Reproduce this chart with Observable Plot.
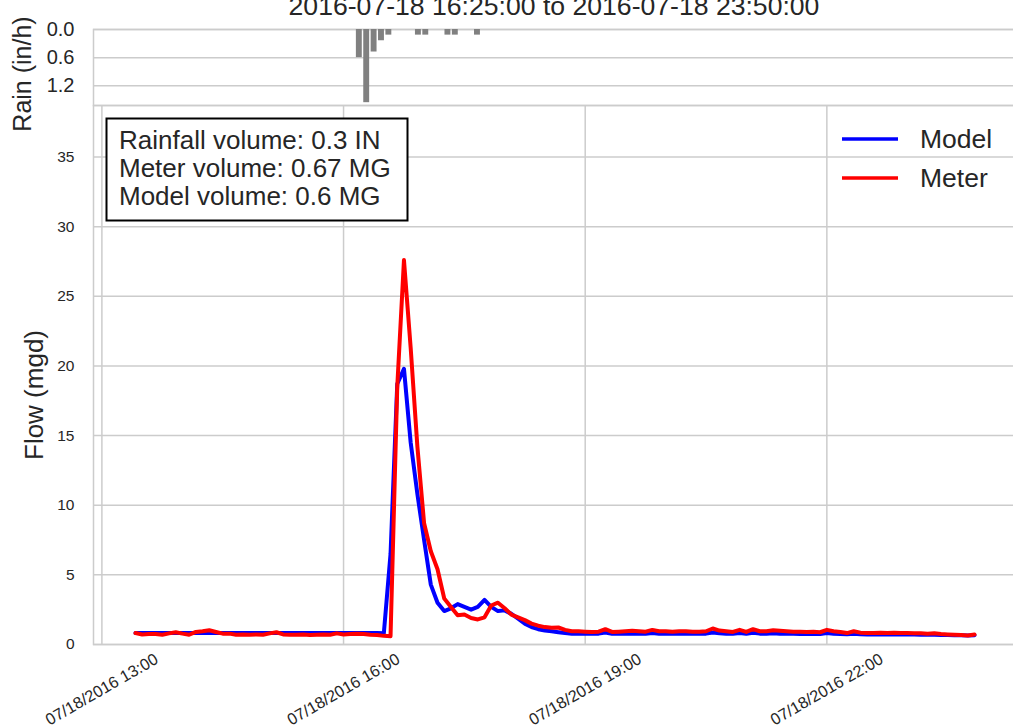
<!DOCTYPE html>
<html>
<head>
<meta charset="utf-8">
<script src="https://cdn.jsdelivr.net/npm/d3@7"></script>
<script src="https://cdn.jsdelivr.net/npm/@observablehq/plot@0.6"></script>
<style>
  html, body { margin: 0; padding: 0; background: white; }
  #wrap { position: relative; width: 1013px; height: 728px; overflow: hidden; font-family: "Liberation Sans", Arial, sans-serif; }
  #wrap > svg, #wrap > figure { position: absolute; left: 0; top: 0; margin: 0; }
</style>
</head>
<body>
<div id="wrap"></div>
<script>
// ---------- data ----------
const startTime = Date.UTC(2016, 6, 18, 13, 25);   // first flow sample
const stepMinutes = 5;

const modelFlow = [
  0.82,0.82,0.82,0.82,0.82,0.82,0.82,0.82,0.82,0.82,
  0.82,0.82,0.82,0.82,0.82,0.82,0.82,0.82,0.82,0.82,
  0.82,0.82,0.82,0.82,0.82,0.82,0.82,0.82,0.82,0.82,
  0.82,0.82,0.82,0.82,0.82,0.82,0.82,0.80,6.5,18.7,
  19.8,14.5,10.8,7.5,4.3,3.0,2.4,2.6,2.9,2.7,
  2.5,2.7,3.2,2.7,2.4,2.45,2.2,1.85,1.5,1.25,
  1.1,1.0,0.95,0.88,0.82,0.78,0.78,0.77,0.77,0.78,
  0.86,0.77,0.77,0.78,0.79,0.78,0.77,0.83,0.78,0.77,
  0.77,0.78,0.78,0.77,0.77,0.78,0.86,0.80,0.78,0.77,
  0.83,0.77,0.84,0.78,0.77,0.80,0.78,0.77,0.77,0.76,
  0.76,0.77,0.75,0.82,0.77,0.75,0.73,0.77,0.73,0.72,
  0.72,0.73,0.72,0.72,0.71,0.71,0.71,0.70,0.70,0.70,
  0.69,0.68,0.67,0.66,0.64,0.67
];

const meterFlow = [
  0.82,0.72,0.75,0.75,0.70,0.80,0.88,0.78,0.70,0.90,
  0.95,1.02,0.90,0.78,0.78,0.70,0.72,0.70,0.72,0.70,
  0.80,0.88,0.72,0.70,0.70,0.72,0.68,0.70,0.72,0.70,
  0.80,0.72,0.75,0.78,0.75,0.70,0.68,0.62,0.60,18.5,
  27.6,21.3,14.2,8.7,6.7,5.4,3.3,2.7,2.1,2.15,
  1.9,1.8,1.95,2.8,3.0,2.6,2.15,1.95,1.75,1.5,
  1.35,1.25,1.2,1.22,1.05,0.95,0.95,0.92,0.90,0.92,
  1.10,0.90,0.92,0.95,0.98,0.95,0.92,1.05,0.95,0.95,
  0.92,0.95,0.95,0.92,0.92,0.95,1.15,1.00,0.95,0.90,
  1.05,0.90,1.10,0.95,0.95,1.02,0.98,0.95,0.92,0.92,
  0.90,0.92,0.88,1.05,0.95,0.90,0.82,0.95,0.85,0.82,
  0.82,0.85,0.82,0.85,0.82,0.82,0.80,0.80,0.78,0.80,
  0.75,0.72,0.70,0.68,0.65,0.72
];

const rainTimes = ["16:25","16:30","16:35","16:40","16:45","17:05","17:10","17:25","17:30","17:45"];
const rainRate  = [0.60, 1.56, 0.48, 0.24, 0.12, 0.12, 0.12, 0.12, 0.12, 0.12];

const flowTicks = [0, 5, 10, 15, 20, 25, 30, 35];
const rainTicks = [0, 0.6, 1.2];
const timeTickLabels = ["13:00", "16:00", "19:00", "22:00"];

const titleText = "2016-07-18 16:25:00 to 2016-07-18 23:50:00";
const boxLines = ["Rainfall volume: 0.3 IN", "Meter volume: 0.67 MG", "Model volume: 0.6 MG"];
const seriesNames = ["Model", "Meter"];
const seriesColors = ["#0000ff", "#ff0000"];

// ---------- helpers ----------
const at = (hm) => { const [h, m] = hm.split(":").map(Number); return new Date(Date.UTC(2016, 6, 18, h, m)); };
const flowRows = [];
modelFlow.forEach((v, i) => flowRows.push({time: new Date(startTime + i * stepMinutes * 60000), value: v, series: "Model"}));
meterFlow.forEach((v, i) => flowRows.push({time: new Date(startTime + i * stepMinutes * 60000), value: v, series: "Meter"}));
const rainRows = rainTimes.map((t, i) => ({time: at(t), value: rainRate[i]}));
const timeTicks = timeTickLabels.map(at);
const fmtTime = d3.utcFormat("%m/%d/%Y %H:%M");

const grid = "#cccccc";
const ink = "#262626";
const font = "'Liberation Sans', Arial, sans-serif";

// ---------- flow panel ----------
const flowPlot = Plot.plot({
  width: 1013, height: 728,
  marginTop: 105, marginBottom: 84, marginLeft: 93, marginRight: -3,
  style: {background: "transparent", fontFamily: font, overflow: "visible"},
  x: {type: "utc", domain: [new Date(Date.UTC(2016,6,18,12,53,45)), new Date(Date.UTC(2016,6,19,0,21,15))], axis: null},
  y: {domain: [0, 38.7], axis: null},
  marks: [
    Plot.gridX(timeTicks, {stroke: grid, strokeOpacity: 1, strokeWidth: 1.5}),
    Plot.gridY(flowTicks, {stroke: grid, strokeOpacity: 1, strokeWidth: 1.5}),
    Plot.frame({stroke: grid, strokeWidth: 1.5}),
    Plot.axisY(flowTicks, {tickSize: 0, tickPadding: 19, fontSize: 15.5, label: null, fill: ink}),
    Plot.text(timeTicks, {x: d => d, text: d => fmtTime(d), frameAnchor: "bottom", dy: 45, rotate: -30, fontSize: 16.3, fill: ink, textAnchor: "middle", lineAnchor: "middle"}),
    Plot.line(flowRows.filter(d => d.series === "Model"), {x: "time", y: "value", stroke: seriesColors[0], strokeWidth: 4}),
    Plot.line(flowRows.filter(d => d.series === "Meter"), {x: "time", y: "value", stroke: seriesColors[1], strokeWidth: 4})
  ]
});

// ---------- rain panel ----------
const halfBar = 2 * 60000;
const rainPlot = Plot.plot({
  width: 1013, height: 106,
  marginTop: 29, marginBottom: 1, marginLeft: 93, marginRight: -3,
  style: {background: "transparent", fontFamily: font, overflow: "visible"},
  x: {type: "utc", domain: [at("13:25"), at("23:50")], axis: null},
  y: {domain: [0, 1.62], reverse: true, axis: null},
  marks: [
    Plot.gridY(rainTicks, {stroke: grid, strokeOpacity: 1, strokeWidth: 1.5}),
    Plot.frame({stroke: grid, strokeWidth: 1.5}),
    Plot.axisY(rainTicks, {tickSize: 0, tickPadding: 19, fontSize: 20, label: null, fill: ink, tickFormat: d => d.toFixed(1)}),
    Plot.rectY(rainRows, {x1: d => new Date(+d.time - halfBar), x2: d => new Date(+d.time + halfBar), y1: 0, y2: "value", fill: "#808080"})
  ]
});

const wrap = document.getElementById("wrap");
wrap.appendChild(flowPlot);
wrap.appendChild(rainPlot);

// ---------- annotations (title, axis titles, text box, legend) ----------
const ns = "http://www.w3.org/2000/svg";
const ann = document.createElementNS(ns, "svg");
ann.setAttribute("width", 1013); ann.setAttribute("height", 728);
ann.style.position = "absolute"; ann.style.left = "0"; ann.style.top = "0"; ann.style.overflow = "visible";
function el(tag, attrs, text) {
  const e = document.createElementNS(ns, tag);
  for (const k in attrs) e.setAttribute(k, attrs[k]);
  if (text != null) e.textContent = text;
  ann.appendChild(e);
  return e;
}
el("text", {x: 554, y: 15, "text-anchor": "middle", "font-size": 26.6, fill: ink, "font-family": font}, titleText);
el("text", {transform: "translate(31,74) rotate(-90)", "text-anchor": "middle", "font-size": 25, fill: ink, "font-family": font}, "Rain (in/h)");
el("text", {transform: "translate(43,395) rotate(-90)", "text-anchor": "middle", "font-size": 26, fill: ink, "font-family": font}, "Flow (mgd)");
el("rect", {x: 106.5, y: 118.5, width: 301, height: 102, fill: "white", stroke: "black", "stroke-width": 2});
boxLines.forEach((t, i) => el("text", {x: 119, y: 149 + i * 27.8, "font-size": 26, fill: ink, "font-family": font}, t));
seriesNames.forEach((name, i) => {
  const y = 139 + i * 39;
  el("line", {x1: 842, x2: 898, y1: y, y2: y, stroke: seriesColors[i], "stroke-width": 3.5});
  el("text", {x: 920, y: y + 9, "font-size": 26.5, fill: ink, "font-family": font}, name);
});
wrap.appendChild(ann);
</script>
</body>
</html>
